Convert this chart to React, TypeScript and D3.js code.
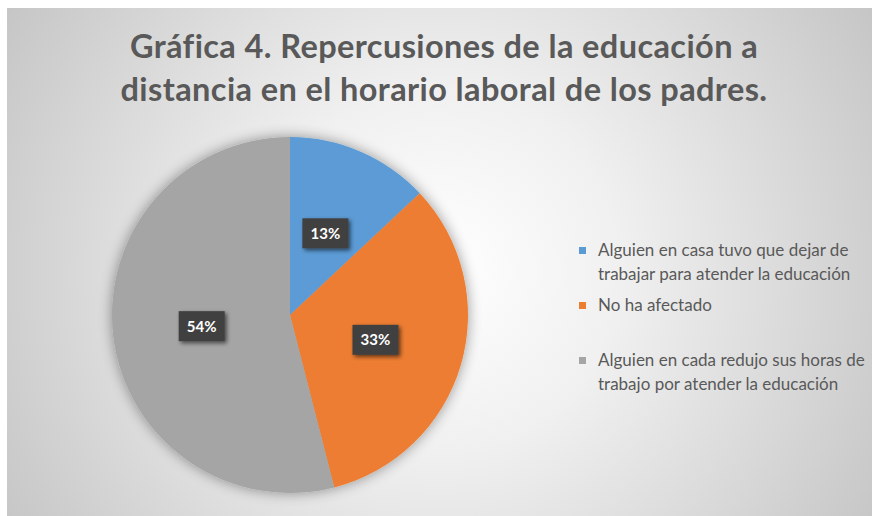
import React, { useEffect, useRef } from 'react'
import * as d3 from 'd3'

// data
const categories = [
  'Alguien en casa tuvo que dejar de trabajar para atender la educación',
  'No ha afectado',
  'Alguien en cada redujo sus horas de trabajo por atender la educación',
]
const values = [13, 33, 54]
const colors = ['#5B9BD5', '#ED7D31', '#A5A5A5']
const legendLines = [
  ['Alguien en casa tuvo que dejar de', 'trabajar para atender la educación'],
  ['No ha afectado'],
  ['Alguien en cada redujo sus horas de', 'trabajo por atender la educación'],
]
const titleLines = [
  'Gráfica 4. Repercusiones de la educación a',
  'distancia en el horario laboral de los padres.',
]

const W = 872
const H = 516

export default function App() {
  const ref = useRef<SVGSVGElement | null>(null)

  useEffect(() => {
    const svg = d3.select(ref.current)
    svg.selectAll('*').remove()

    const defs = svg.append('defs')
    const grad = defs.append('radialGradient')
      .attr('id', 'bg')
      .attr('gradientUnits', 'userSpaceOnUse')
      .attr('cx', 440).attr('cy', 270).attr('r', 520)
    grad.append('stop').attr('offset', '0%').attr('stop-color', '#ffffff')
    grad.append('stop').attr('offset', '35%').attr('stop-color', '#f0f0f0')
    grad.append('stop').attr('offset', '100%').attr('stop-color', '#c4c4c4')

    const pieShadow = defs.append('filter').attr('id', 'pieShadow')
      .attr('x', '-20%').attr('y', '-20%').attr('width', '140%').attr('height', '140%')
    pieShadow.append('feGaussianBlur').attr('in', 'SourceAlpha').attr('stdDeviation', 7)
    pieShadow.append('feComponentTransfer').append('feFuncA').attr('type', 'linear').attr('slope', 0.4)
    const m1 = pieShadow.append('feMerge')
    m1.append('feMergeNode')
    m1.append('feMergeNode').attr('in', 'SourceGraphic')

    const boxShadow = defs.append('filter').attr('id', 'boxShadow')
      .attr('x', '-30%').attr('y', '-30%').attr('width', '170%').attr('height', '170%')
    boxShadow.append('feGaussianBlur').attr('in', 'SourceAlpha').attr('stdDeviation', 2)
    boxShadow.append('feOffset').attr('dx', 2).attr('dy', 2)
    boxShadow.append('feComponentTransfer').append('feFuncA').attr('type', 'linear').attr('slope', 0.6)
    const m2 = boxShadow.append('feMerge')
    m2.append('feMergeNode')
    m2.append('feMergeNode').attr('in', 'SourceGraphic')

    svg.append('rect').attr('width', W).attr('height', H).attr('fill', '#ffffff')
    svg.append('rect').attr('x', 7).attr('y', 8).attr('width', W - 7).attr('height', H - 8)
      .attr('fill', 'url(#bg)')

    // title
    svg.append('g').selectAll('text')
      .data(titleLines)
      .enter()
      .append('text')
      .attr('x', 444)
      .attr('y', (d, i) => 58 + i * 43)
      .attr('text-anchor', 'middle')
      .attr('font-family', 'Lato, sans-serif')
      .attr('font-weight', 700)
      .attr('font-size', 32.5)
      .attr('letter-spacing', 0.4)
      .attr('fill', '#595959')
      .text(d => d)

    // pie
    const cx = 290, cy = 315, R = 178
    const pie = d3.pie<number>().sort(null).value(d => d)
    const arcs = pie(values)
    const arc = d3.arc<d3.PieArcDatum<number>>().innerRadius(0).outerRadius(R)
    const g = svg.append('g').attr('transform', `translate(${cx},${cy})`)
    g.append('g').attr('filter', 'url(#pieShadow)')
      .selectAll('path')
      .data(arcs)
      .enter()
      .append('path')
      .attr('d', arc)
      .attr('fill', (d, i) => colors[i])

    // data labels
    const labels = g.selectAll('g.lbl')
      .data(arcs)
      .enter()
      .append('g')
      .attr('class', 'lbl')
      .attr('transform', d => `translate(${arc.centroid(d)})`)
    labels.append('rect')
      .attr('x', -23).attr('y', -15).attr('width', 46).attr('height', 30)
      .attr('fill', '#404040')
      .attr('filter', 'url(#boxShadow)')
    labels.append('text')
      .attr('text-anchor', 'middle')
      .attr('dy', '0.36em')
      .attr('font-family', 'Lato, sans-serif')
      .attr('font-weight', 700)
      .attr('font-size', 15)
      .attr('fill', '#ffffff')
      .text(d => Math.round(d.data) + '%')

    // legend (baselines of first line of each entry)
    const legendY = [256, 311, 366]
    const lg = svg.append('g')
    categories.forEach((c, i) => {
      const item = lg.append('g').attr('transform', `translate(579,${legendY[i]})`)
      item.append('rect').attr('x', 0).attr('y', -9).attr('width', 7).attr('height', 7).attr('fill', colors[i])
      item.selectAll('text')
        .data(legendLines[i])
        .enter()
        .append('text')
        .attr('x', 19)
        .attr('y', (d, j) => j * 24)
        .attr('font-family', 'Lato, sans-serif')
        .attr('font-size', 17)
        .attr('fill', '#595959')
        .text(d => d)
    })
  }, [])

  return (
    <svg ref={ref} width={W} height={H}
      style={{ position: 'absolute', left: 0, top: 0, display: 'block' }} />
  )
}
